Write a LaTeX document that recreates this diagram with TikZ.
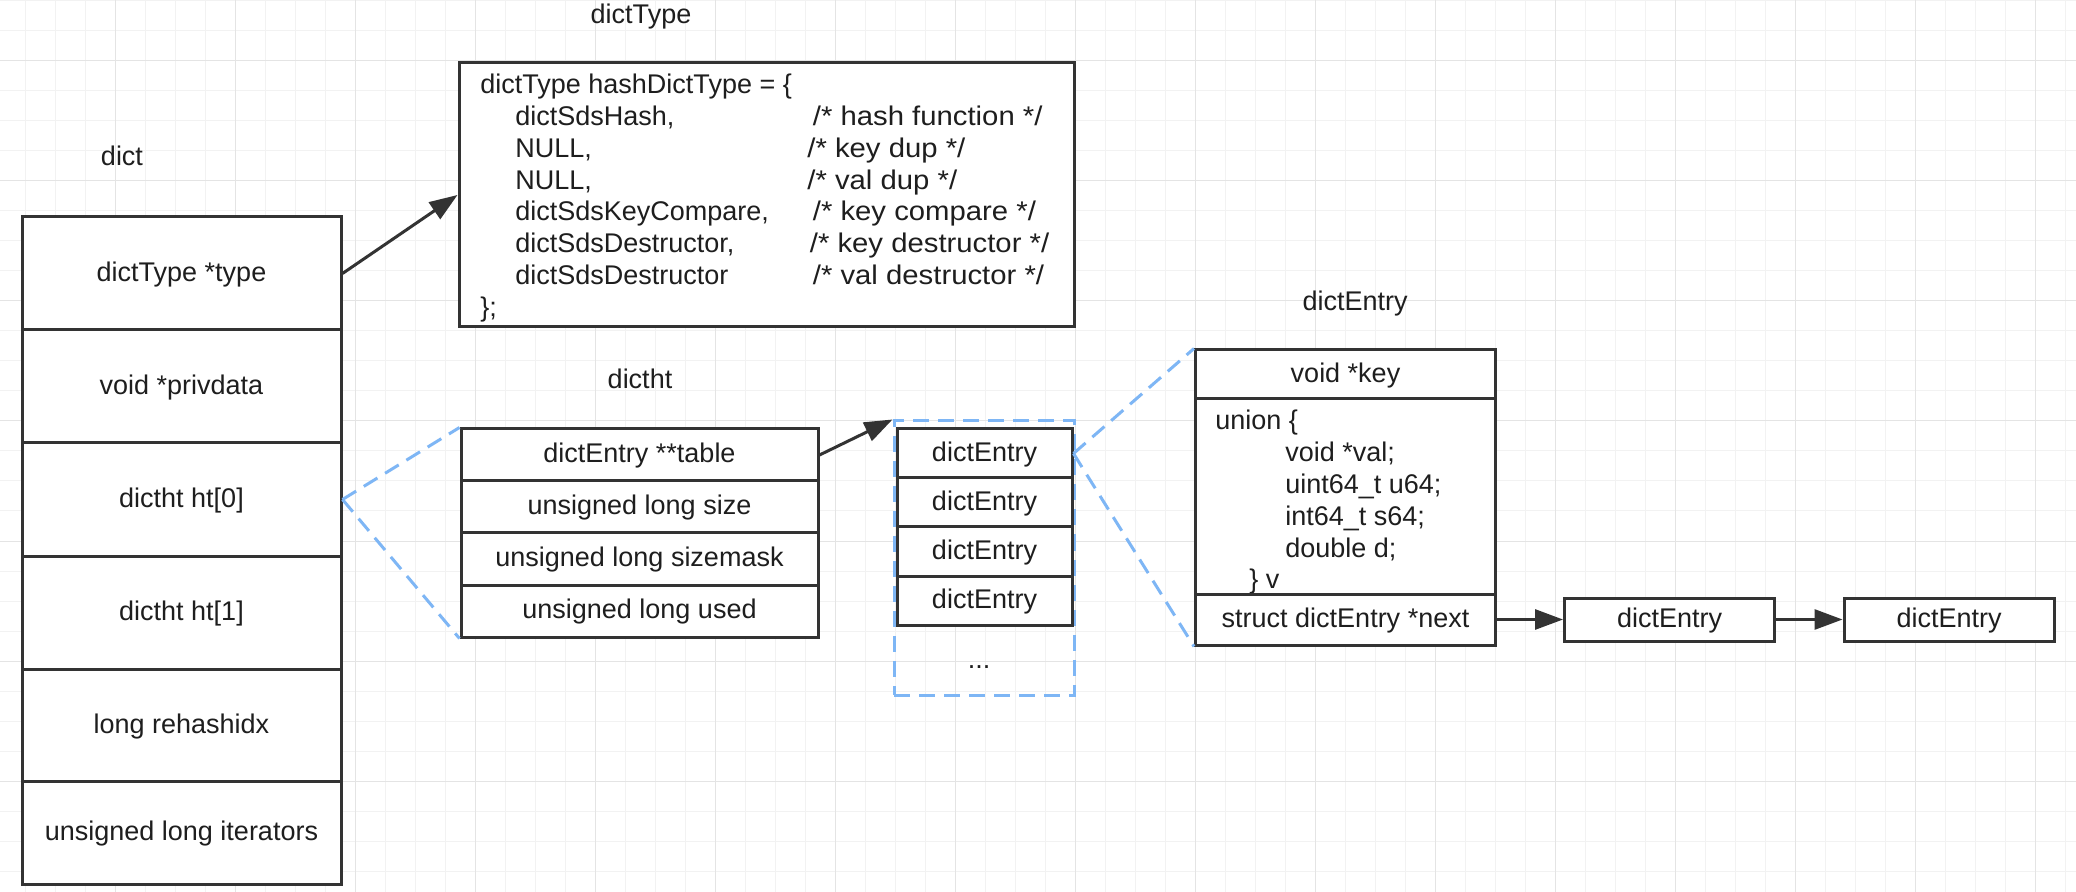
\documentclass[tikz,border=0pt]{standalone}
\usepackage{fontspec}
\setmainfont{Liberation Sans}
\usepackage{graphicx}
\usepackage{tikz}
\usetikzlibrary{arrows.meta}

\definecolor{linec}{HTML}{333333}
\definecolor{textc}{HTML}{1E1E1E}
\definecolor{dashc}{HTML}{7EB6F5}
\definecolor{gridminor}{HTML}{F2F2F2}
\definecolor{gridmajor}{HTML}{E4E4E4}

\newcommand{\cmt}[1]{\scalebox{1.085}[1]{/* #1 */}}
\newcommand{\cfield}[3][148.75pt]{\hspace*{17.5pt}\makebox[#1][l]{#2}\cmt{#3}}

\begin{document}
\begin{tikzpicture}[
    x=0.5pt, y=-0.5pt,
    font=\fontsize{13.5}{15.9}\selectfont,
    text=textc,
    heading/.style={inner sep=0pt, text height=11pt, text depth=3.2pt},
    cell/.style={heading, draw=linec, fill=white, line width=1.5pt},
    dictcell/.style={cell, minimum width=159.5pt, minimum height=56.5pt},
    htcell/.style={cell, minimum width=178.5pt, minimum height=26pt},
    ecell/.style={cell, minimum width=87.5pt, minimum height=24.5pt},
    scell/.style={cell, minimum width=150pt},
    ncell/.style={cell, minimum width=105pt, minimum height=21.5pt},
    code/.style={align=left, inner sep=0pt, anchor=west},
    ptr/.style={draw=linec, line width=1.5pt, -{Triangle[length=14pt, width=10pt]}},
    zoomline/.style={draw=dashc, line width=1.5pt, dash pattern=on 8pt off 4.5pt}
]
    \useasboundingbox (0,0) rectangle (2076,892);
    \fill[white] (0,0) rectangle (2076,892);

    % grid
    \foreach \gx in {25,55,...,2065} \draw[gridminor, line width=0.5pt] (\gx,0) -- (\gx,892);
    \foreach \gy in {1,31,...,871} \draw[gridminor, line width=0.5pt] (0,\gy) -- (2076,\gy);
    \foreach \gx in {115,235,...,2035} \draw[gridmajor, line width=0.5pt] (\gx,0) -- (\gx,892);
    \foreach \gy in {61,181,...,781} \draw[gridmajor, line width=0.5pt] (0,\gy) -- (2076,\gy);

    % dict
    \node[heading] (ldict) at (122,157.5) {dict};
    \node[dictcell] (dtype) at (181.5,273.5) {dictType *type};
    \node[dictcell] (dpriv) at (181.5,386.5) {void *privdata};
    \node[dictcell] (dht0) at (181.5,499.5) {dictht ht[0]};
    \node[dictcell] (dht1) at (181.5,612.5) {dictht ht[1]};
    \node[dictcell] (drehash) at (181.5,725.5) {long rehashidx};
    \node[dictcell, minimum height=51.5pt] (diter) at (181.5,833) {unsigned long iterators};

    % dictType
    \node[heading] (ltype) at (641,15.5) {dictType};
    \node[cell, minimum width=307.5pt, minimum height=132pt] (htype) at (766.5,195) {};
    \node[code] (htypecode) at (480,198) {dictType hashDictType = \{\\
        \cfield{dictSdsHash,}{hash function}\\
        \cfield[146pt]{NULL,}{key dup}\\
        \cfield[146pt]{NULL,}{val dup}\\
        \cfield{dictSdsKeyCompare,}{key compare}\\
        \cfield[147.25pt]{dictSdsDestructor,}{key destructor}\\
        \cfield{dictSdsDestructor}{val destructor}\\
        \};};

    % dictht
    \node[heading] (lht) at (640,381) {dictht};
    \node[htcell] (table) at (639.5,455) {dictEntry **table};
    \node[htcell] (size) at (639.5,507) {unsigned long size};
    \node[htcell] (mask) at (639.5,559) {unsigned long sizemask};
    \node[htcell] (used) at (639.5,611) {unsigned long used};

    % buckets
    \node[zoomline, inner sep=0pt, minimum width=90.25pt, minimum height=137pt] (bucket) at (984.25,558) {};
    \node[ecell] (e1) at (984.5,453.5) {dictEntry};
    \node[ecell] (e2) at (984.5,502.5) {dictEntry};
    \node[ecell] (e3) at (984.5,551.5) {dictEntry};
    \node[ecell] (e4) at (984.5,600.5) {dictEntry};
    \node[inner sep=0pt, anchor=base] (edots) at (979,668) {...};

    % dictEntry
    \node[heading] (lentry) at (1355,303) {dictEntry};
    \node[scell, minimum height=24.5pt] (ekey) at (1345.5,374.5) {void *key};
    \node[scell, minimum height=97.5pt] (eunion) at (1345.5,496.5) {};
    \node[code] (eunioncode) at (1215,502.5) {union \{\\
        \hspace*{35pt}void *val;\\
        \hspace*{35pt}uint64\_t u64;\\
        \hspace*{35pt}int64\_t s64;\\
        \hspace*{35pt}double d;\\
        \hspace*{17pt}\} v};
    \node[scell, minimum height=25.5pt] (enext) at (1345.5,619.5) {struct dictEntry *next};
    \node[ncell] (n1) at (1669.5,619.5) {dictEntry};
    \node[ncell] (n2) at (1949,619.5) {dictEntry};

    % pointers
    \draw[ptr] (dtype.east) -- (htype.west);
    \draw[ptr] (table.east) -- (bucket.north west);
    \draw[ptr] (enext.east) -- (n1.west);
    \draw[ptr] (n1.east) -- (n2.west);

    % zoom lines
    \draw[zoomline] (dht0.east) -- (table.north west);
    \draw[zoomline] (dht0.east) -- (used.south west);
    \draw[zoomline] (e1.east) -- (ekey.north west);
    \draw[zoomline] (e1.east) -- (enext.south west);

\end{tikzpicture}
\end{document}
